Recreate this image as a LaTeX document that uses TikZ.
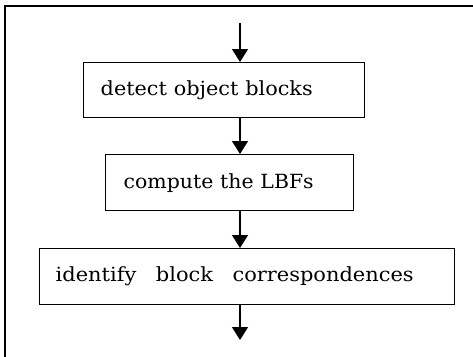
\documentclass[tikz,border=0pt]{standalone}
\usepackage{fontspec}
\usepackage{graphicx}
\setmainfont{DejaVu Serif}
\usetikzlibrary{arrows.meta}
\newcommand{\fitw}[2]{\resizebox{#1}{\height}{#2}}
\begin{document}
\begin{tikzpicture}[x=1pt,y=-1pt,
  box/.style={draw, line width=1.4pt, anchor=north west, inner xsep=0pt, inner ysep=0pt,
    font=\fontsize{19.5}{21}\selectfont, align=left},
  flow/.style={line width=1.4pt, -{Triangle[length=13pt,width=16pt]}}]
\useasboundingbox (0,0) rectangle (473,356);
\draw[line width=2pt] (4.5,360) -- (4.5,6) -- (480,6);
\node[box, minimum width=281pt, minimum height=55pt, text width=281pt] (b1) at (83,62) {\hspace*{17pt}\fitw{212pt}{detect object blocks}};
\node[box, minimum width=248pt, minimum height=56pt, text width=248pt] (b2) at (105,154) {\hspace*{18pt}\fitw{190pt}{compute the LBFs}};
\node[box, minimum width=415pt, minimum height=56pt, text width=415pt] (b3) at (39,248) {\hspace*{16pt}\fitw{358pt}{identify\hspace{0.6em} block\hspace{0.6em} correspondences}};
\coordinate (in) at (240,23);
\coordinate (out) at (240,340);
\draw[flow] (in) -- (in |- b1.north);
\draw[flow] (b1.south -| in) -- (in |- b2.north);
\draw[flow] (b2.south -| in) -- (in |- b3.north);
\draw[flow] (b3.south -| in) -- (out);
\end{tikzpicture}
\end{document}
